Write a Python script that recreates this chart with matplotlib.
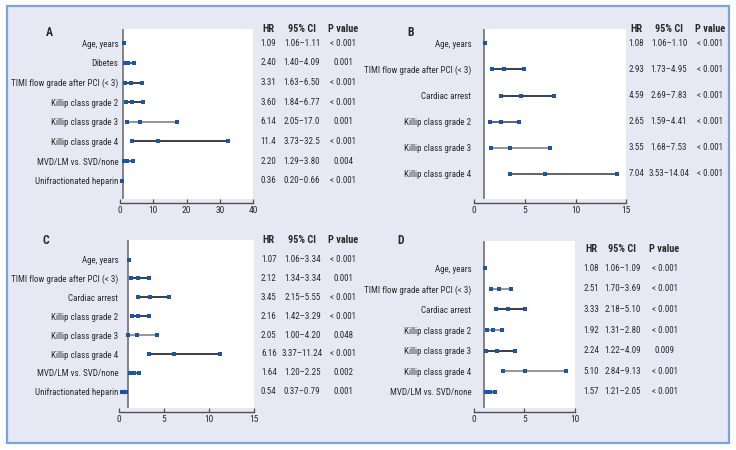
import matplotlib
matplotlib.use("Agg")
import matplotlib.pyplot as plt
import matplotlib.transforms as mtrans
from matplotlib.patches import Rectangle
from matplotlib import font_manager
from matplotlib.font_manager import FontProperties

# ---------------- data ----------------
labels_A = ["Age, years", "Dibetes", "TIMI flow grade after PCI (< 3)", "Killip class grade 2",
            "Killip class grade 3", "Killip class grade 4", "MVD/LM vs. SVD/none", "Unifractionated heparin"]
hr_A = [1.09, 2.40, 3.31, 3.60, 6.14, 11.4, 2.20, 0.36]
lo_A = [1.06, 1.40, 1.63, 1.84, 2.05, 3.73, 1.29, 0.20]
hi_A = [1.11, 4.09, 6.50, 6.77, 17.0, 32.5, 3.80, 0.66]
hr_txt_A = ["1.09", "2.40", "3.31", "3.60", "6.14", "11.4", "2.20", "0.36"]
ci_txt_A = ["1.06–1.11", "1.40–4.09", "1.63–6.50", "1.84–6.77", "2.05–17.0", "3.73–32.5", "1.29–3.80", "0.20–0.66"]
p_txt_A = ["< 0.001", "0.001", "< 0.001", "< 0.001", "0.001", "< 0.001", "0.004", "< 0.001"]
xticks_A = [0, 10, 20, 30, 40]

labels_B = ["Age, years", "TIMI flow grade after PCI (< 3)", "Cardiac arrest", "Killip class grade 2",
            "Killip class grade 3", "Killip class grade 4"]
hr_B = [1.08, 2.93, 4.59, 2.65, 3.55, 7.04]
lo_B = [1.06, 1.73, 2.69, 1.59, 1.68, 3.53]
hi_B = [1.10, 4.95, 7.83, 4.41, 7.53, 14.04]
hr_txt_B = ["1.08", "2.93", "4.59", "2.65", "3.55", "7.04"]
ci_txt_B = ["1.06–1.10", "1.73–4.95", "2.69–7.83", "1.59–4.41", "1.68–7.53", "3.53–14.04"]
p_txt_B = ["< 0.001"] * 6
xticks_B = [0, 5, 10, 15]

labels_C = ["Age, years", "TIMI flow grade after PCI (< 3)", "Cardiac arrest", "Killip class grade 2",
            "Killip class grade 3", "Killip class grade 4", "MVD/LM vs. SVD/none", "Unifractionated heparin"]
hr_C = [1.07, 2.12, 3.45, 2.16, 2.05, 6.16, 1.64, 0.54]
lo_C = [1.06, 1.34, 2.15, 1.42, 1.00, 3.37, 1.20, 0.37]
hi_C = [1.08, 3.34, 5.55, 3.29, 4.20, 11.24, 2.25, 0.79]
hr_txt_C = ["1.07", "2.12", "3.45", "2.16", "2.05", "6.16", "1.64", "0.54"]
ci_txt_C = ["1.06–3.34", "1.34–3.34", "2.15–5.55", "1.42–3.29", "1.00–4.20", "3.37–11.24", "1.20–2.25", "0.37–0.79"]
p_txt_C = ["< 0.001", "0.001", "< 0.001", "< 0.001", "0.048", "< 0.001", "0.002", "0.001"]
xticks_C = [0, 5, 10, 15]

labels_D = ["Age, years", "TIMI flow grade after PCI (< 3)", "Cardiac arrest", "Killip class grade 2",
            "Killip class grade 3", "Killip class grade 4", "MVD/LM vs. SVD/none"]
hr_D = [1.08, 2.51, 3.33, 1.92, 2.24, 5.10, 1.57]
lo_D = [1.06, 1.70, 2.18, 1.31, 1.22, 2.84, 1.21]
hi_D = [1.09, 3.69, 5.10, 2.80, 4.09, 9.13, 2.05]
hr_txt_D = ["1.08", "2.51", "3.33", "1.92", "2.24", "5.10", "1.57"]
ci_txt_D = ["1.06–1.09", "1.70–3.69", "2.18–5.10", "1.31–2.80", "1.22–4.09", "2.84–9.13", "1.21–2.05"]
p_txt_D = ["< 0.001", "< 0.001", "< 0.001", "< 0.001", "0.009", "< 0.001", "< 0.001"]
xticks_D = [0, 5, 10]

# ---------------- fonts ----------------
entries = font_manager.fontManager.ttflist


def find_font(bold):
    prefs = ['Liberation Sans Narrow', 'Arial Narrow', 'Roboto Condensed', 'Open Sans Condensed',
             'Noto Sans Condensed', 'DejaVu Sans Condensed']
    def ok(f):
        w = f.weight if isinstance(f.weight, int) else (700 if 'bold' in str(f.weight) else 400)
        return (w >= 600) == bold and f.style == 'normal'
    for p in prefs:
        for f in entries:
            if f.name == p and ok(f):
                return f.fname
    for f in entries:
        if f.name == 'DejaVu Sans' and 'condensed' in str(f.stretch) and ok(f):
            return f.fname
    for f in entries:
        if ('Narrow' in f.name or 'Condensed' in f.name) and ok(f):
            return f.fname
    return None


reg_path = find_font(False)
bold_path = find_font(True)
FP = FontProperties(fname=reg_path) if reg_path else FontProperties(family=['Liberation Sans', 'DejaVu Sans'])
FPB = FontProperties(fname=bold_path) if bold_path else FontProperties(family=['Liberation Sans', 'DejaVu Sans'], weight='bold')

# ---------------- styles ----------------
W, H = 736, 450
BG = '#e6e9f4'
BORDER = '#7ea3d6'
BLUE = '#1b55a5'
DARK = '#2e2e2e'
GRAY = '#8c8c8c'
MID = '#555555'
TXT = '#2a2a2a'

lc_A = [BLUE, BLUE, DARK, DARK, GRAY, DARK, BLUE, BLUE]
lc_B = [BLUE, DARK, DARK, MID, GRAY, MID]
lc_C = [BLUE, DARK, DARK, DARK, GRAY, DARK, BLUE, BLUE]
lc_D = [BLUE, GRAY, DARK, GRAY, DARK, GRAY, BLUE]

fig = plt.figure(figsize=(W / 100, H / 100), dpi=100)
fig.patch.set_facecolor('white')
renderer = fig.canvas.get_renderer()


def width_px(s, fp, size):
    p = fp.copy()
    p.set_size(size)
    t = fig.text(0, 0, s, fontproperties=p)
    w = t.get_window_extent(renderer).width
    t.remove()
    return w


# scale font sizes so text widths match the reference (which uses a narrow face)
SZ = 10 * 66.7 / width_px("Killip class grade 3", FP, 10)
SZ_B = 10 * 30.0 / width_px("P value", FPB, 10)
SZ_T = 10 * 9.3 / width_px("40", FP, 10)


def fprop(size, bold=False):
    p = (FPB if bold else FP).copy()
    p.set_size(size)
    return p


# outer framed box
fig.patches.append(Rectangle((7 / W, 1 - 442.5 / H), (728.5 - 7) / W, (442.5 - 5.5) / H,
                             transform=fig.transFigure, facecolor=BG, edgecolor=BORDER,
                             linewidth=1.6, zorder=-10))


def fx(x):
    return x / W


def fy(y):
    return 1 - y / H


def panel(letter, letter_xy, ax_px, xmax, rows, labels, hr, lo, hi, lcs,
          hr_txt, ci_txt, p_txt, cols, header_y, xticks, label_end, lw_special=None):
    left, right, top, bottom = ax_px
    ax = fig.add_axes([fx(left), fy(bottom), (right - left) / W, (bottom - top) / H])
    ax.set_facecolor('none')
    p0, s = rows
    n = len(labels)
    ytop = -(p0 - top) / s
    ybot = (bottom - p0) / s
    ax.set_xlim(0, xmax)
    ax.set_ylim(ybot, ytop)
    ax.axvspan(1, xmax, color='white', zorder=0, lw=0)
    ax.axvline(1, color='#707070', lw=1.2, zorder=1)
    ys = list(range(n))
    for i in ys:
        lw = 1.3
        if lw_special is not None and i in lw_special:
            lw = lw_special[i]
        ax.plot([lo[i], hi[i]], [i, i], color=lcs[i], lw=lw, zorder=2, solid_capstyle='butt')
        ax.plot([lo[i], hr[i], hi[i]], [i, i, i], ls='none', marker='s', ms=2.3, mew=0,
                color=BLUE, zorder=3)
    for sp in ['left', 'right', 'top']:
        ax.spines[sp].set_visible(False)
    ax.spines['bottom'].set_position(('outward', 2.7))
    ax.spines['bottom'].set_color('#505050')
    ax.spines['bottom'].set_linewidth(1.0)
    ax.set_xticks(xticks)
    ax.set_xticklabels([str(t) for t in xticks], fontproperties=fprop(SZ_T), color=TXT)
    ax.tick_params(axis='x', direction='in', length=3, width=0.9, color='#505050', pad=2.5)
    ax.set_yticks(ys)
    ax.set_yticklabels(labels, fontproperties=fprop(SZ), color=TXT)
    ax.tick_params(axis='y', length=0, pad=max(left - label_end, 0) * 0.72)
    # table
    tr = mtrans.blended_transform_factory(fig.transFigure, ax.transData)
    for i in ys:
        for cx, t in zip(cols, [hr_txt[i], ci_txt[i], p_txt[i]]):
            ax.text(fx(cx), i, t, transform=tr, ha='center', va='center',
                    fontproperties=fprop(SZ), color=TXT)
    for cx, t in zip(cols, ["HR", "95% CI", "P value"]):
        fig.text(fx(cx), fy(header_y), t, ha='center', va='center',
                 fontproperties=fprop(SZ_B, True), color=TXT)
    fig.text(fx(letter_xy[0]), fy(letter_xy[1]), letter, ha='center', va='center',
             fontproperties=fprop(SZ_B * 1.15, True), color=TXT)
    return ax


panel("A", (49, 33), (120, 253.3, 29, 199), 40, (43.3, 19.63), labels_A, hr_A, lo_A, hi_A, lc_A,
      hr_txt_A, ci_txt_A, p_txt_A, (268.5, 302, 343), 29.3, xticks_A, 118.3)
panel("B", (411, 33), (474, 626.3, 29, 199), 15, (43.3, 26.1), labels_B, hr_B, lo_B, hi_B, lc_B,
      hr_txt_B, ci_txt_B, p_txt_B, (636.5, 669, 710), 29.3, xticks_B, 471.3)
panel("C", (46, 240), (119, 254, 240, 408), 15, (259.5, 18.9), labels_C, hr_C, lo_C, hi_C, lc_C,
      hr_txt_C, ci_txt_C, p_txt_C, (268.8, 302.3, 343.3), 240, xticks_C, 118.3, lw_special={7: 3.0})
panel("D", (401, 240), (474, 574.7, 241, 408), 10, (268.3, 20.57), labels_D, hr_D, lo_D, hi_D, lc_D,
      hr_txt_D, ci_txt_D, p_txt_D, (591, 622.5, 664.5), 249, xticks_D, 471.3)

fig.savefig("out.png", dpi=100, facecolor='white')
